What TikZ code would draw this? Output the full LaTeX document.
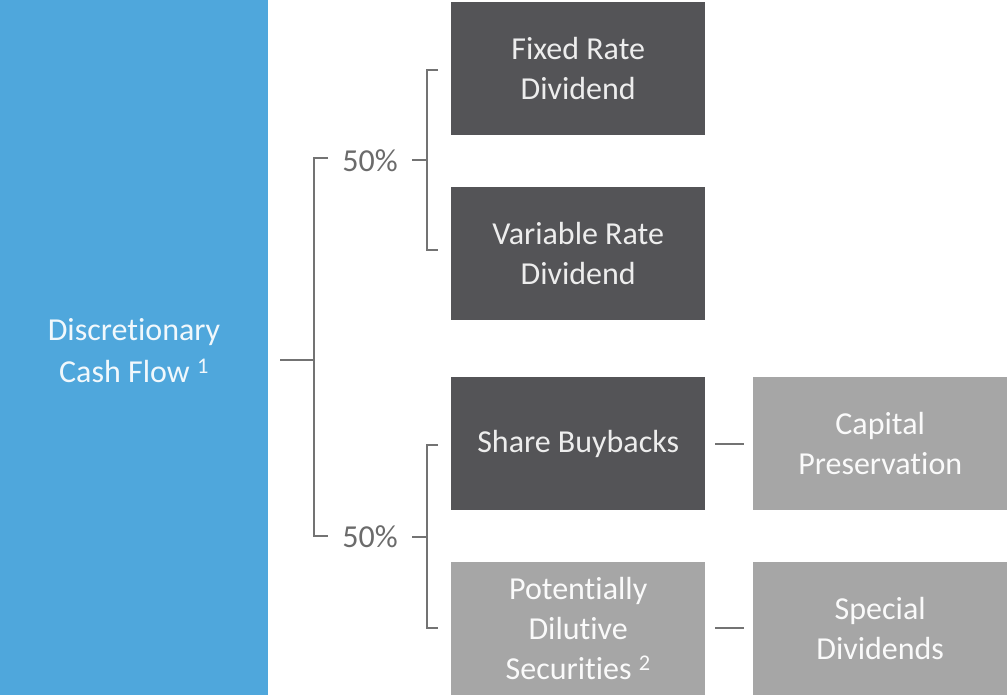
\documentclass[tikz,border=0pt]{standalone}
\usepackage{fontspec}
\setmainfont{Carlito}[Ligatures=NoCommon]
\definecolor{cfblue}{HTML}{4FA7DC}
\definecolor{darkbox}{HTML}{545457}
\definecolor{lightbox}{HTML}{A6A6A6}
\definecolor{linegrey}{HTML}{737373}
\definecolor{pcttext}{HTML}{6B6B6B}
\begin{document}
\begin{tikzpicture}[x=1pt,y=-1pt,
  boxbase/.style={anchor=north west, inner sep=0pt, align=center,
    font=\fontsize{32}{40}\selectfont, text=white!93!black},
  darkb/.style={boxbase, fill=darkbox, minimum width=254pt, minimum height=133pt},
  lightb/.style={boxbase, fill=lightbox, text=white!94!lightbox, minimum width=254pt, minimum height=133pt},
  pct/.style={font=\fontsize{32}{36}\selectfont, text=pcttext, inner sep=0pt},
  conn/.style={draw=linegrey, line width=2pt}]
\useasboundingbox (0,0) rectangle (1008,695);
% main box
\node[boxbase, fill=cfblue, minimum width=268pt, minimum height=695pt] (cf) at (0,0) {};
\node[font=\fontsize{32}{42}\selectfont, text=white!92!cfblue, align=center] (cft) at (134,351)
  {Discretionary\\Cash Flow \textsuperscript{1}};
% right boxes
\node[darkb] (fixed) at (451,2) {Fixed Rate\\Dividend};
\node[darkb] (var) at (451,187) {Variable Rate\\Dividend};
\node[darkb] (share) at (451,377) {Share Buybacks};
\node[lightb] (pot) at (451,562) {Potentially\\Dilutive\\Securities \textsuperscript{2}};
\node[lightb] (cap) at (753,377) {Capital\\Preservation};
\node[lightb] (spec) at (753,562) {Special\\Dividends};
% percentages
\node[pct] (p1) at (370,161) {50\%};
\node[pct] (p2) at (370,537) {50\%};
% coordinates
\coordinate (m0) at (280,360);
\coordinate (m1) at (314,360);
\coordinate (ta) at (328,158);
\coordinate (ba) at (328,536);
\coordinate (u0) at (412,160);
\coordinate (u1) at (427,160);
\coordinate (l0) at (412,537);
\coordinate (l1) at (427,537);
% connectors
\draw[conn] (m0) -- (m1);
\draw[conn] (ta) -| (m1) |- (ba);
\draw[conn] (u0) -- (u1);
\draw[conn] (fixed.west |- 0,70) ++(-13,0) coordinate (fa) -- ++(-11,0) |- ([xshift=-13pt]var.west |- 0,250) coordinate (va);
\draw[conn] (l0) -- (l1);
\draw[conn] ([xshift=-13pt]share.west |- 0,445) -- ++(-11,0) |- ([xshift=-13pt]pot.west |- 0,628);
\draw[conn] ([xshift=10pt]share.east) -- ([xshift=-9pt]cap.west);
\draw[conn] ([xshift=10pt]pot.east |- 0,628) -- ([xshift=-9pt]spec.west |- 0,628);
\end{tikzpicture}
\end{document}
